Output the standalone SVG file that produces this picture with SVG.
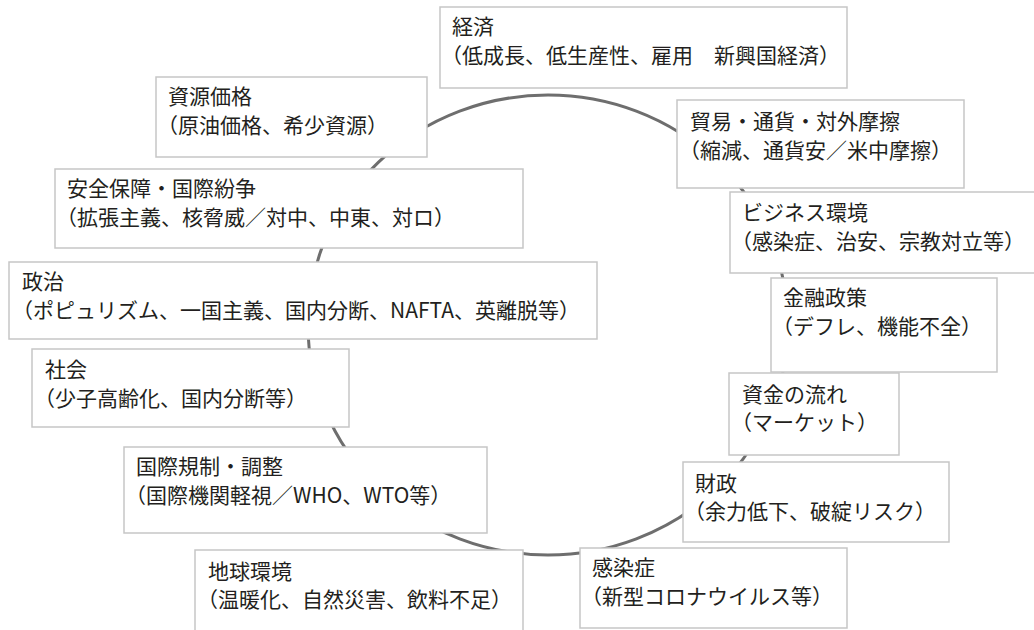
<svg xmlns="http://www.w3.org/2000/svg" width="1034" height="630" viewBox="0 0 1034 630">
<style>
.box{fill:#ffffff;stroke:#c6c6c6;stroke-width:1.5}
.t{font-family:"Noto Sans CJK JP","Noto Sans",sans-serif;font-size:21px;fill:#231f20}
.ring{fill:none;stroke:#6e6e6e;stroke-width:3}
</style>
<rect x="0" y="0" width="1034" height="630" fill="#ffffff"/>
<g id="connectors">
<ellipse class="ring" cx="548" cy="325" rx="240" ry="230"/>
</g>
<g id="n-keizai"><rect class="box" x="440" y="7" width="407" height="81"/><text class="t" x="452" y="34">経済</text><text class="t" x="441" y="63">（低成長、低生産性、雇用　新興国経済）</text></g>
<g id="n-shigen"><rect class="box" x="156" y="77" width="271" height="80"/><text class="t" x="168" y="104">資源価格</text><text class="t" x="157" y="133">（原油価格、希少資源）</text></g>
<g id="n-boeki"><rect class="box" x="677" y="100" width="287" height="88"/><text class="t" x="690" y="129">貿易・通貨・対外摩擦</text><text class="t" x="679" y="158">（縮減、通貨安／米中摩擦）</text></g>
<g id="n-business"><rect class="box" x="730" y="192" width="310" height="81"/><text class="t" x="742" y="220">ビジネス環境</text><text class="t" x="731" y="249">（感染症、治安、宗教対立等）</text></g>
<g id="n-kinyu"><rect class="box" x="771" y="278" width="226" height="94"/><text class="t" x="783" y="305">金融政策</text><text class="t" x="772" y="334">（デフレ、機能不全）</text></g>
<g id="n-shikin"><rect class="box" x="729" y="373" width="170" height="82"/><text class="t" x="742" y="402">資金の流れ</text><text class="t" x="731" y="430">（マーケット）</text></g>
<g id="n-zaisei"><rect class="box" x="683" y="462" width="266" height="80"/><text class="t" x="695" y="491">財政</text><text class="t" x="684" y="519">（余力低下、破綻リスク）</text></g>
<g id="n-kansen"><rect class="box" x="580" y="548" width="267" height="80"/><text class="t" x="592" y="575">感染症</text><text class="t" x="581" y="604">（新型コロナウイルス等）</text></g>
<g id="n-chikyu"><rect class="box" x="195" y="550" width="328" height="85"/><text class="t" x="208" y="579">地球環境</text><text class="t" x="197" y="607">（温暖化、自然災害、飲料不足）</text></g>
<g id="n-kisei"><rect class="box" x="124" y="447" width="363" height="86"/><text class="t" x="136" y="474">国際規制・調整</text><text class="t" x="125" y="503">（国際機関軽視／WHO、WTO等）</text></g>
<g id="n-shakai"><rect class="box" x="32" y="349" width="317" height="78"/><text class="t" x="45" y="377">社会</text><text class="t" x="34" y="406">（少子高齢化、国内分断等）</text></g>
<g id="n-seiji"><rect class="box" x="9" y="262" width="588" height="77"/><text class="t" x="22" y="289">政治</text><text class="t" x="12" y="318">（ポピュリズム、一国主義、国内分断、NAFTA、英離脱等）</text></g>
<g id="n-anzen"><rect class="box" x="55" y="169" width="468" height="79"/><text class="t" x="67" y="196">安全保障・国際紛争</text><text class="t" x="56" y="225">（拡張主義、核脅威／対中、中東、対ロ）</text></g>
</svg>
